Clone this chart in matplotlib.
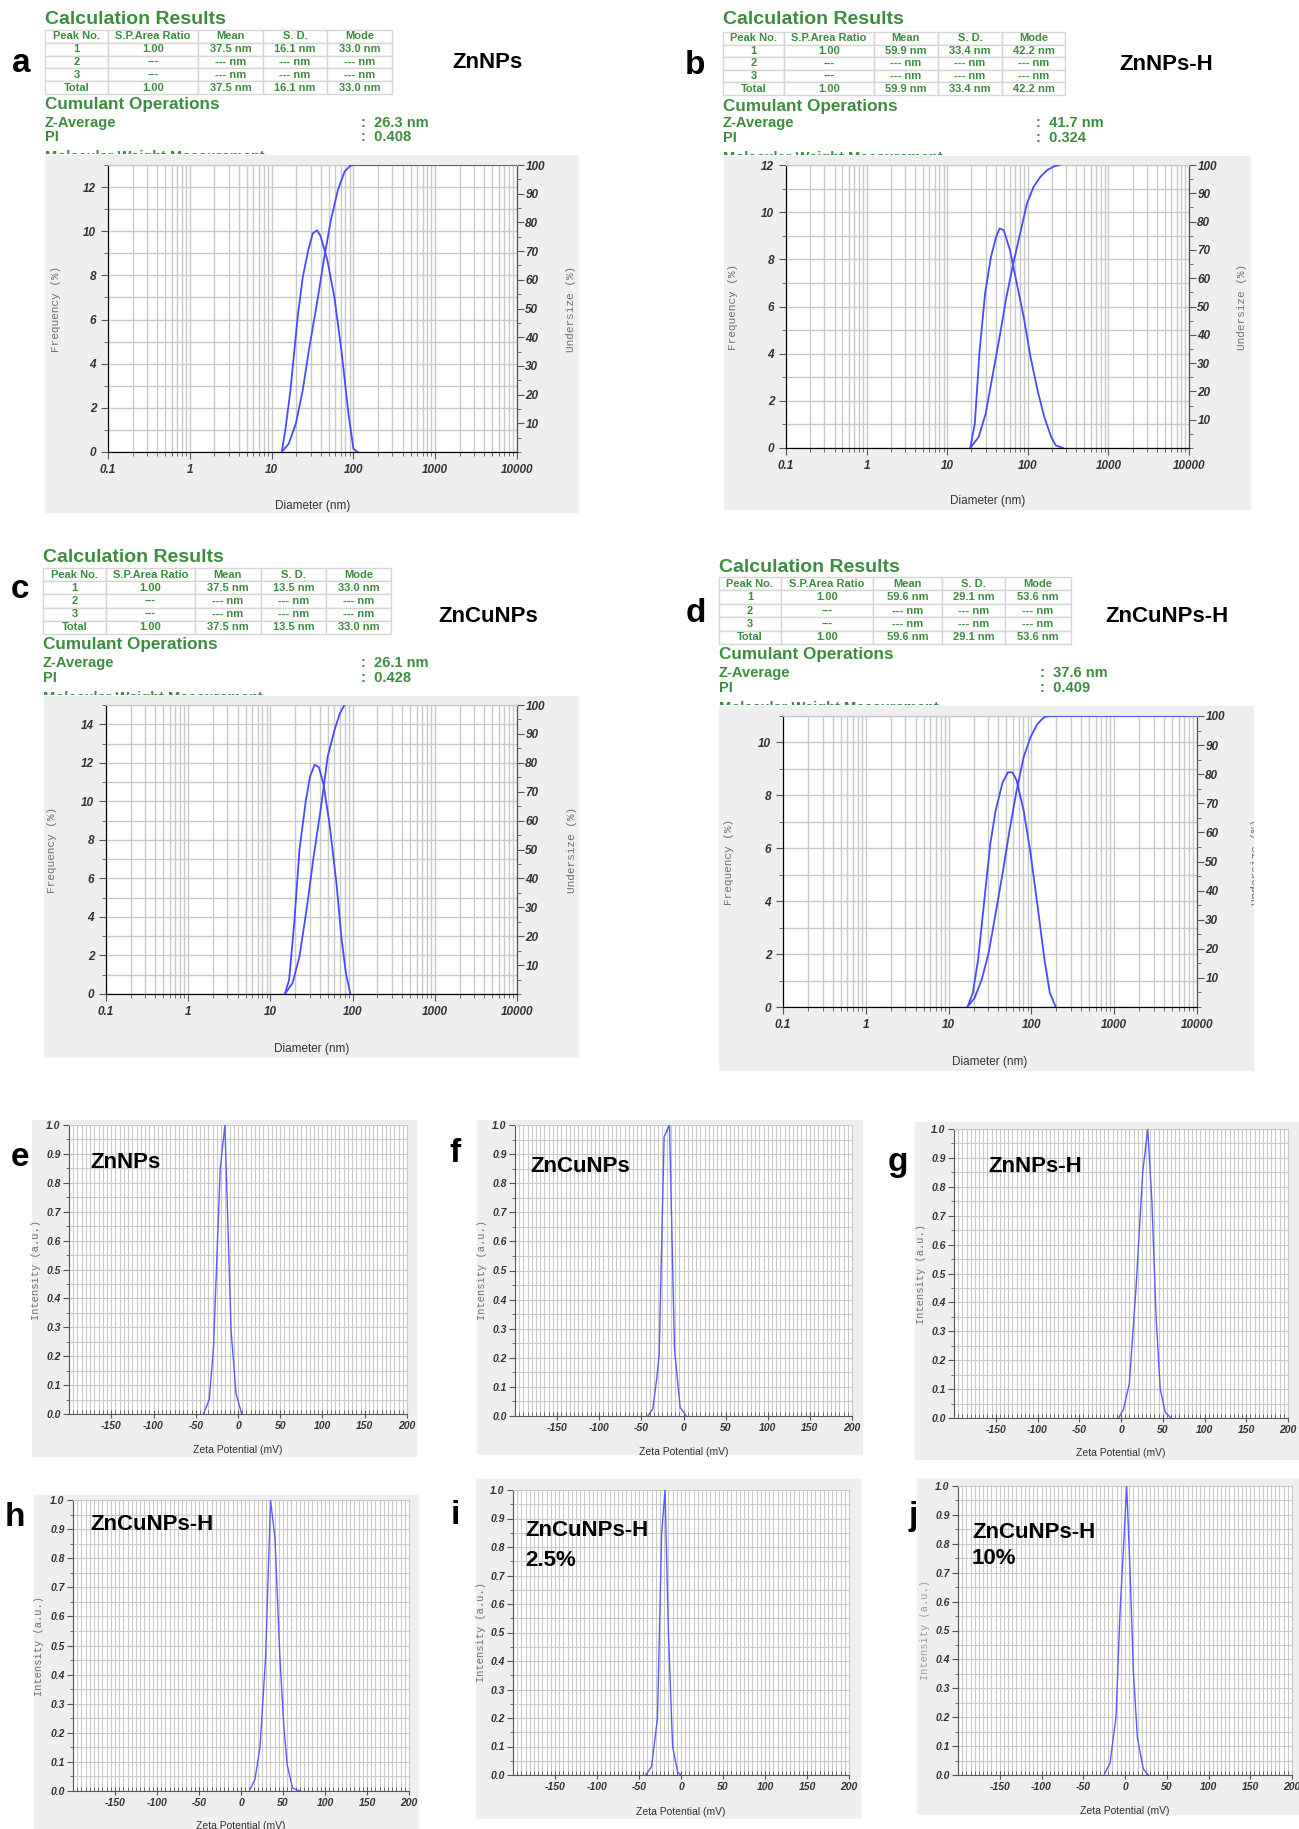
import numpy as np
import matplotlib
matplotlib.use('Agg')
import matplotlib.pyplot as plt
from matplotlib.patches import Rectangle
from matplotlib.ticker import MultipleLocator, LogLocator, NullFormatter

plt.rcParams['font.family'] = ['Liberation Sans', 'DejaVu Sans']

W, H = 1299, 1829

###########
#  Data   #
###########

# DLS summary tables (a-d)
dls_names = ['ZnNPs', 'ZnNPs-H', 'ZnCuNPs', 'ZnCuNPs-H']
dls_ratio = ['1.00', '1.00', '1.00', '1.00']
dls_mean = ['37.5 nm', '59.9 nm', '37.5 nm', '59.6 nm']
dls_sd = ['16.1 nm', '33.4 nm', '13.5 nm', '29.1 nm']
dls_mode = ['33.0 nm', '42.2 nm', '33.0 nm', '53.6 nm']
z_average = ['26.3 nm', '41.7 nm', '26.1 nm', '37.6 nm']
pdi = ['0.408', '0.324', '0.428', '0.409']
table_header = ['Peak No.', 'S.P.Area Ratio', 'Mean', 'S. D.', 'Mode']

dls_ticks = [0.1, 1, 10, 100, 1000, 10000]
dls_ticklabels = ['0.1', '1', '10', '100', '1000', '10000']
freq_max = [13, 12, 15, 11]

# size distributions: diameter (nm) -> frequency (%), undersize (%)
a_d_freq = [13.3, 14.7, 17.0, 20.8, 24.0, 27.9, 31.8, 35.8, 39.5, 48, 58.6, 71.4, 87, 100, 112]
a_freq = [0, 0.98, 2.8, 6.1, 7.9, 9.1, 9.9, 10.04, 9.8, 8.7, 7.0, 4.6, 1.74, 0.15, 0]
a_d_und = [13.3, 16.2, 19.8, 24.0, 29.0, 35.8, 43.5, 53, 64.7, 78, 91, 100, 10000]
a_und = [0, 2.9, 9.9, 21.5, 36.6, 51.7, 66.9, 80.8, 91.3, 97.7, 99.7, 100, 100]

b_d_freq = [19.3, 22, 25.2, 29.5, 34.9, 40.5, 44.7, 50.2, 60, 73, 88.9, 108, 132, 160, 195, 222, 275]
b_freq = [0, 1.03, 4.1, 6.55, 8.1, 8.96, 9.31, 9.24, 8.4, 6.98, 5.56, 3.86, 2.45, 1.32, 0.47, 0.11, 0]
b_d_und = [19.3, 24.6, 30, 36.3, 44.7, 54.3, 66, 80.3, 97.6, 118, 144, 174, 214, 248]
b_und = [0, 3.9, 12.1, 25.1, 39.3, 53.4, 65.2, 75.8, 86.4, 92.3, 95.9, 98.2, 99.6, 100]

c_d_freq = [15, 16.9, 19.5, 22.6, 26.9, 30.4, 34.5, 38.9, 44.2, 52.2, 63.6, 73.6, 82.8, 94]
c_freq = [0, 0.74, 3.7, 7.5, 10.0, 11.3, 11.9, 11.77, 10.9, 8.87, 5.76, 2.82, 1.09, 0]
c_d_und = [15, 18.6, 22.6, 27.5, 33.6, 40.8, 49.7, 60.3, 70, 79.5]
c_und = [0, 3.8, 13, 29.1, 47.6, 63.7, 82.1, 91.4, 97.1, 100]

d_d_freq = [16.9, 19.6, 22.7, 27, 31.9, 37, 44.9, 52, 59, 66.4, 80.6, 97.8, 119, 144, 167, 197]
d_freq = [0, 0.53, 1.78, 4.04, 6.17, 7.43, 8.49, 8.87, 8.87, 8.56, 7.43, 5.8, 3.79, 1.78, 0.53, 0]
d_d_und = [16.9, 20.6, 25.1, 30.4, 37, 44.9, 54.5, 66.4, 80.6, 97.8, 119, 144, 167, 10000]
d_und = [0, 3.1, 9.4, 18.5, 32.2, 45.9, 60.8, 74.5, 85.9, 92.8, 97.4, 99.7, 100, 100]

# zeta potential (mV) -> intensity (a.u.)
zeta_names = ['ZnNPs', 'ZnCuNPs', 'ZnNPs-H', 'ZnCuNPs-H', 'ZnCuNPs-H\n2.5%', 'ZnCuNPs-H\n10%']
zeta_ticks = [-150, -100, -50, 0, 50, 100, 150, 200]
e_mv = [-41, -34, -29, -21, -15.5, -8.2, -2.3, 4.4]
e_int = [0, 0.05, 0.23, 0.85, 1.0, 0.29, 0.07, 0]
f_mv = [-42.4, -36.4, -31.7, -28.9, -23, -16.6, -10.7, -4, 3.2]
f_int = [0, 0.025, 0.13, 0.21, 0.96, 1.0, 0.23, 0.03, 0]
g_mv = [-3, 3, 10, 18, 26, 32, 37, 42, 47, 53, 60]
g_int = [0, 0.03, 0.12, 0.45, 0.85, 1.0, 0.75, 0.35, 0.1, 0.02, 0]
h_mv = [9.9, 16.6, 22.6, 29.3, 35.2, 40.4, 46.3, 51, 55, 61.4, 70]
h_int = [0, 0.04, 0.15, 0.46, 1.0, 0.87, 0.46, 0.22, 0.09, 0.01, 0]
i_mv = [-42, -35, -28, -23, -19, -15, -10, -4, 0]
i_int = [0, 0.03, 0.2, 0.85, 1.0, 0.5, 0.1, 0.01, 0]
j_mv = [-25.2, -18, -10.8, -6, -1.2, 2, 6, 10, 14.8, 22, 28]
j_int = [0, 0.04, 0.2, 0.56, 0.82, 1.0, 0.71, 0.36, 0.13, 0.02, 0]

GREEN = '#3d8c40'
BLUE = '#4a4aff'
GRID = '#c9c9c9'
PANEL_BG = '#efefef'
TICKCOL = '#333333'

fig = plt.figure(figsize=(W / 100, H / 100), dpi=100)


def pixel_axes(zorder):
    cv = fig.add_axes([0, 0, 1, 1], zorder=zorder)
    cv.set_xlim(0, W)
    cv.set_ylim(H, 0)
    cv.axis('off')
    return cv


# pixel canvases: one under the plots (tables, grey frames), one above (panel letters)
canvas = pixel_axes(-5)
overlay = pixel_axes(10)


def px_axes(l, t, r, b, **kw):
    return fig.add_axes([l / W, 1 - b / H, (r - l) / W, (b - t) / H], **kw)


def grey_box(l, t, r, b):
    canvas.add_patch(Rectangle((l, t), r - l, b - t, fc=PANEL_BG, ec='none', zorder=2))


#########
# Texts #
#########

def draw_header(i, title_xy, cols, top, bottom, y_cum, y_z, y_pi, x_colon, box_top):
    tx, ty = title_xy
    canvas.text(tx, ty, 'Calculation Results', color=GREEN, fontsize=14,
                fontweight='bold', va='center', ha='left', zorder=3)
    rows = [table_header,
            ['1', dls_ratio[i], dls_mean[i], dls_sd[i], dls_mode[i]],
            ['2', '---', '--- nm', '--- nm', '--- nm'],
            ['3', '---', '--- nm', '--- nm', '--- nm'],
            ['Total', dls_ratio[i], dls_mean[i], dls_sd[i], dls_mode[i]]]
    rh = (bottom - top) / len(rows)
    for r, row in enumerate(rows):
        for c, txt in enumerate(row):
            canvas.add_patch(Rectangle((cols[c], top + r * rh), cols[c + 1] - cols[c], rh,
                                       fc='white', ec='#d6d6d6', lw=1, zorder=3))
            canvas.text((cols[c] + cols[c + 1]) / 2, top + (r + 0.5) * rh, txt,
                        color=GREEN, fontsize=8, fontweight='bold',
                        ha='center', va='center', zorder=4)
    canvas.text(tx, y_cum, 'Cumulant Operations', color=GREEN, fontsize=12.3,
                fontweight='bold', va='center', zorder=3)
    canvas.text(tx, y_z, 'Z-Average', color=GREEN, fontsize=10.5,
                fontweight='bold', va='center', zorder=3)
    canvas.text(tx, y_pi, 'PI', color=GREEN, fontsize=10.5,
                fontweight='bold', va='center', zorder=3)
    canvas.text(x_colon, y_z, ':  ' + z_average[i], color=GREEN, fontsize=10.5,
                fontweight='bold', va='center', zorder=3)
    canvas.text(x_colon, y_pi, ':  ' + pdi[i], color=GREEN, fontsize=10.5,
                fontweight='bold', va='center', zorder=3)
    # next line of the report, cut off by the plot frame: only the letter tops show
    strip = px_axes(tx, box_top - 5, tx + 330, box_top - 1)
    strip.axis('off')
    strip.set_xlim(0, 1)
    strip.set_ylim(0, 1)
    strip.text(0, 0.9, 'Molecular Weight Measurement', color=GREEN, fontsize=10.5,
               fontweight='bold', va='top', ha='left', clip_on=True)


def panel_label(x, y, s, size=24):
    overlay.text(x, y, s, fontsize=size, fontweight='bold', ha='center',
                 va='center', color='black')


def sample_label(x, y, s, ha='center', size=16, dy=28):
    # one text per line so the line gap follows the scan
    for k, line in enumerate(s.split('\n')):
        overlay.text(x, y + k * dy, line, fontsize=size, fontweight='bold', ha=ha,
                     va='center', color='black')


#########
# Plots #
#########

def bold_italic(labels):
    for lbl in labels:
        lbl.set_fontweight('bold')
        lbl.set_fontstyle('italic')
        lbl.set_color(TICKCOL)


def plot_dls(box, rect, fmax, d_freq, freq, d_und, und, lab_x, xlab_y):
    grey_box(*box)
    ax = px_axes(*rect)
    ax.set_xscale('log')
    ax.plot(d_freq, freq, color=BLUE, lw=1.3, zorder=5)
    ax.axhline(0, color=BLUE, lw=1, ls=':', alpha=0.5, zorder=4)
    ax.set_xlim(0.1, 10000)
    ax.set_ylim(0, fmax)
    ax.xaxis.set_minor_locator(LogLocator(base=10, subs=np.arange(2, 10), numticks=100))
    ax.xaxis.set_minor_formatter(NullFormatter())
    ax.set_xticks(dls_ticks, dls_ticklabels)
    ax.yaxis.set_major_locator(MultipleLocator(2))
    ax.yaxis.set_minor_locator(MultipleLocator(1))
    ax.grid(which='both', color=GRID, lw=1)
    ax.tick_params(which='both', colors='#555555', labelcolor=TICKCOL, labelsize=8.5,
                   direction='out')
    ax.tick_params(which='major', length=5)
    ax.tick_params(which='minor', length=3)
    bold_italic(ax.get_xticklabels() + ax.get_yticklabels())
    for s in ['left', 'bottom']:
        ax.spines[s].set_color('#555555')
    ax.spines['top'].set_color(GRID)

    tw = ax.twinx()
    tw.plot(d_und, und, color=BLUE, lw=1.3, zorder=5)
    tw.set_ylim(0, 100)
    tw.set_yticks(np.arange(10, 101, 10))
    tw.yaxis.set_minor_locator(MultipleLocator(5))
    tw.tick_params(which='both', colors='#555555', labelcolor=TICKCOL, labelsize=8.5,
                   direction='out', pad=1)
    tw.tick_params(which='major', length=5)
    tw.tick_params(which='minor', length=3)
    bold_italic(tw.get_yticklabels())
    tw.spines['right'].set_color('#555555')
    tw.spines['top'].set_color(GRID)

    t, b = rect[1], rect[3]
    canvas.text(lab_x[0], (t + b) / 2, 'Frequency (%)', rotation=90, ha='center',
                va='center', family='Liberation Mono', fontsize=8, color='#707070', zorder=3)
    canvas.text(lab_x[1], (t + b) / 2, 'Undersize (%)', rotation=90, ha='center',
                va='center', family='Liberation Mono', fontsize=8, color='#707070', zorder=3)
    canvas.text((rect[0] + rect[2]) / 2, xlab_y, 'Diameter (nm)', ha='center',
                va='center', fontsize=8.5, color='#333333', zorder=3)
    return ax


def plot_zeta(box, rect, mv, inten, lab_x, xlab_y, ylab_col='#707070'):
    grey_box(*box)
    ax = px_axes(*rect)
    ax.plot(mv, inten, color='#5a5aff', lw=1.0, zorder=5)
    ax.set_xlim(-200, 200)
    ax.set_ylim(0, 1.0)
    ax.set_xticks(zeta_ticks, [str(v) for v in zeta_ticks])
    ax.xaxis.set_minor_locator(MultipleLocator(5))
    ax.set_yticks(np.arange(0, 1.01, 0.1), ['%.1f' % v for v in np.arange(0, 1.01, 0.1)])
    ax.yaxis.set_minor_locator(MultipleLocator(0.05))
    ax.grid(which='both', color=GRID, lw=0.8)
    ax.tick_params(which='both', colors='#555555', labelcolor=TICKCOL, labelsize=7.5, pad=2)
    ax.tick_params(axis='x', which='major', direction='inout', length=6)
    ax.tick_params(axis='x', which='minor', direction='in', length=3)
    ax.tick_params(axis='y', which='major', direction='out', length=4)
    ax.tick_params(axis='y', which='minor', direction='out', length=2)
    bold_italic(ax.get_xticklabels() + ax.get_yticklabels())
    for s in ['left', 'bottom']:
        ax.spines[s].set_color('#555555')
    for s in ['top', 'right']:
        ax.spines[s].set_color(GRID)
    t, b = rect[1], rect[3]
    canvas.text(lab_x, (t + b) / 2, 'Intensity (a.u.)', rotation=90, ha='center',
                va='center', family='Liberation Mono', fontsize=7.5, color=ylab_col, zorder=3)
    canvas.text((rect[0] + rect[2]) / 2, xlab_y, 'Zeta Potential (mV)', ha='center',
                va='center', fontsize=7.5, color='#333333', zorder=3)
    return ax


# DLS headers
draw_header(0, (45, 19), [45, 108, 198, 263, 327, 392], 30, 94, 105, 123, 137, 361, 155)
draw_header(1, (723, 20), [723, 784, 874, 938, 1002, 1065], 32, 95, 106, 123, 138, 1036, 156)
draw_header(2, (43, 557), [43, 106, 195, 261, 326, 391], 568, 634, 645, 663, 678, 361, 696)
draw_header(3, (719, 567), [719, 781, 873, 942, 1005, 1071], 577, 644, 655, 673, 688, 1040, 706)

panel_label(21, 63, 'a')
panel_label(695, 65, 'b')
panel_label(20, 590, 'c')
panel_label(696, 613, 'd')
sample_label(488, 63, dls_names[0])
sample_label(1166, 65, dls_names[1])
sample_label(488, 616, dls_names[2])
sample_label(1167, 617, dls_names[3])

# DLS plots
plot_dls((45, 155, 579, 513), (108, 165, 517, 452), freq_max[0],
         a_d_freq, a_freq, a_d_und, a_und, (56, 571), 506)
plot_dls((724, 156, 1251, 510), (786, 165, 1189, 448), freq_max[1],
         b_d_freq, b_freq, b_d_und, b_und, (733, 1242), 501)
plot_dls((44, 696, 579, 1058), (106, 705, 517, 994), freq_max[2],
         c_d_freq, c_freq, c_d_und, c_und, (52, 572), 1049)
plot_dls((719, 706, 1254, 1071), (783, 716, 1197, 1007), freq_max[3],
         d_d_freq, d_freq, d_d_und, d_und, (729, 1256), 1062)
# the scanned panel d is cropped at its right edge
canvas.add_patch(Rectangle((1254, 700), 45, 380, fc='white', ec='none', zorder=5))

# zeta potential plots
plot_zeta((32, 1120, 417, 1457), (69, 1125, 407, 1414), e_mv, e_int, 36, 1450)
plot_zeta((477, 1120, 863, 1455), (515, 1125, 852, 1416), f_mv, f_int, 482, 1452)
plot_zeta((915, 1122, 1299, 1460), (954, 1129, 1288, 1418), g_mv, g_int, 921, 1453)
plot_zeta((34, 1495, 419, 1829), (73, 1500, 409, 1791), h_mv, h_int, 39, 1826)
plot_zeta((476, 1479, 861, 1819), (513, 1490, 849, 1775), i_mv, i_int, 481, 1812)
plot_zeta((917, 1478, 1299, 1815), (958, 1486, 1292, 1775), j_mv, j_int, 925, 1811,
          ylab_col='#9a9a9a')

panel_label(20, 1157, 'e')
panel_label(455, 1154, 'f')
panel_label(898, 1163, 'g')
panel_label(15, 1518, 'h')
panel_label(455, 1516, 'i')
panel_label(913, 1517, 'j')
sample_label(90, 1162, zeta_names[0], ha='left')
sample_label(530, 1167, zeta_names[1], ha='left')
sample_label(988, 1166, zeta_names[2], ha='left')
sample_label(90, 1525, zeta_names[3], ha='left')
sample_label(525, 1531, zeta_names[4], ha='left', dy=29)
sample_label(972, 1532, zeta_names[5], ha='left', dy=26)

fig.savefig('out.png', dpi=100)
